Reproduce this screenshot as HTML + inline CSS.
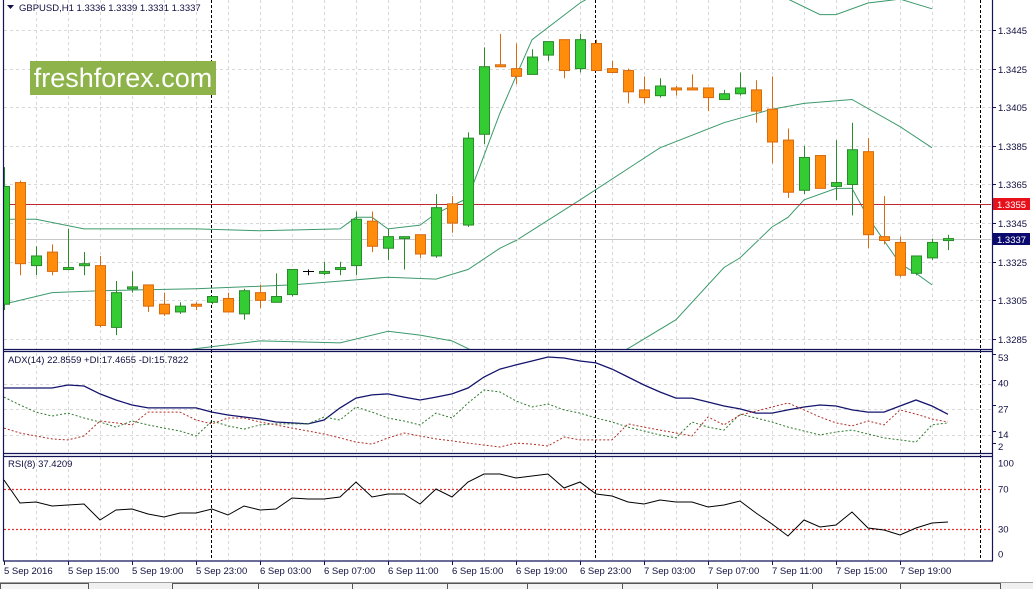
<!DOCTYPE html>
<html><head><meta charset="utf-8"><title>GBPUSD H1</title>
<style>
html,body{margin:0;padding:0;background:#fff;}
svg{display:block;font-family:"Liberation Sans",Tahoma,sans-serif;}
</style></head>
<body>
<svg id="chart" width="1033" height="589" viewBox="0 0 1033 589" xmlns="http://www.w3.org/2000/svg">
<defs>
<clipPath id="cMain"><rect x="4" y="0" width="988" height="349"/></clipPath>
<clipPath id="cAdx"><rect x="4" y="352" width="988" height="100"/></clipPath>
<clipPath id="cRsi"><rect x="4" y="457" width="988" height="103"/></clipPath>
</defs>
<rect x="0" y="0" width="1033" height="589" fill="#ffffff"/>
<g id="grid"></g>
<g id="main" clip-path="url(#cMain)"></g>
<g id="adx" clip-path="url(#cAdx)"></g>
<g id="rsi" clip-path="url(#cRsi)"></g>
<g id="frame"></g>
<g id="axes"></g>
<rect x="30" y="61" width="186" height="34" fill="#8db34a"/>
<text x="123" y="87" text-anchor="middle" font-size="27" fill="#ffffff">freshforex.com</text>
<path d="M7 5 L14 5 L10.5 9 Z" fill="#101050"/>
<text x="19" y="11" font-size="9.5" fill="#101040">GBPUSD,H1  1.3336 1.3339 1.3331 1.3337</text>
<text x="8" y="363" font-size="9.5" fill="#101040">ADX(14) 22.8559 +DI:17.4655 -DI:15.7822</text>
<text x="8" y="467" font-size="9.5" fill="#101040">RSI(8) 37.4209</text>
</svg>
<script>
const openP=[1.3303,1.3366,1.3323,1.3330,1.3321,1.3323,1.3323,1.3291,1.3311,1.3313,1.3303,1.3299,1.3303,1.3304,1.3306,1.3298,1.3309,1.3304,1.3308,1.3320,1.3319,1.3321,1.3323,1.3346,1.3332,1.3337,1.3339,1.3328,1.3355,1.3344,1.3391,1.3427,1.3425,1.3422,1.3432,1.3440,1.3425,1.3438,1.3425,1.3424,1.3414,1.3411,1.3415,1.3415,1.3415,1.3409,1.3412,1.3414,1.3404,1.3388,1.3362,1.3380,1.3364,1.3365,1.3382,1.3338,1.3335,1.3319,1.3327,1.3336];
const highP=[1.3374,1.3367,1.3333,1.3334,1.3342,1.3330,1.3328,1.3315,1.3320,1.3313,1.3309,1.3304,1.3304,1.3307,1.3309,1.3311,1.3313,1.3319,1.3321,1.3321,1.3325,1.3325,1.3351,1.3351,1.3342,1.3338,1.3339,1.3360,1.3359,1.3392,1.3436,1.3443,1.3438,1.3435,1.3439,1.3440,1.3443,1.3440,1.3429,1.3425,1.3421,1.3420,1.3416,1.3422,1.3415,1.3414,1.3423,1.3419,1.3421,1.3394,1.3385,1.3380,1.3388,1.3397,1.3389,1.3359,1.3338,1.3328,1.3337,1.3339];
const lowP=[1.3300,1.3318,1.3318,1.3318,1.3321,1.3318,1.3291,1.3287,1.3309,1.3299,1.3297,1.3298,1.3300,1.3303,1.3299,1.3295,1.3301,1.3304,1.3307,1.3318,1.3318,1.3318,1.3318,1.3330,1.3326,1.3321,1.3327,1.3327,1.3340,1.3343,1.3386,1.3426,1.3417,1.3422,1.3429,1.3420,1.3423,1.3424,1.3423,1.3407,1.3407,1.3410,1.3411,1.3414,1.3403,1.3409,1.3411,1.3397,1.3376,1.3358,1.3360,1.3363,1.3357,1.3349,1.3332,1.3334,1.3317,1.3318,1.3326,1.3331];
const closeP=[1.3364,1.3324,1.3328,1.3320,1.3322,1.3324,1.3292,1.3309,1.3312,1.3302,1.3298,1.3302,1.3302,1.3307,1.3299,1.3310,1.3305,1.3307,1.3321,1.3320,1.3320,1.3322,1.3347,1.3333,1.3338,1.3338,1.3329,1.3353,1.3345,1.3389,1.3426,1.3426,1.3421,1.3431,1.3439,1.3424,1.3440,1.3424,1.3423,1.3413,1.3410,1.3416,1.3414,1.3414,1.3410,1.3412,1.3415,1.3403,1.3387,1.3361,1.3379,1.3363,1.3366,1.3383,1.3339,1.3336,1.3318,1.3328,1.3335,1.3337];
const upperIdx=[0,2,5,12,16,21,22,23,24,26,27,29,31,33,36,40,44,49,51,52,54,56,58];
const upperBand=[1.3347,1.3347,1.3342,1.3342,1.3341,1.3342,1.3348,1.3348,1.3342,1.3344,1.3350,1.3358,1.3402,1.3440,1.3459,1.3478,1.3475,1.3461,1.3453,1.3453,1.3459,1.3461,1.3456];
const midIdx=[0,3,6,12,18,21,24,27,29,31,32,36,41,45,48,50,53,56,58];
const midBand=[1.3303,1.3309,1.3310,1.3311,1.3313,1.3315,1.3317,1.3316,1.3321,1.3332,1.3336,1.3357,1.3384,1.3397,1.3404,1.3407,1.3409,1.3395,1.3384];
const lowIdx=[0,6,12,16,21,24,26,28,29,34,39,42,45,46,48,49,50,52,53,54,56,57,58];
const lowBand=[1.3268,1.3272,1.3280,1.3284,1.3283,1.3289,1.3287,1.3284,1.3280,1.3262,1.3280,1.3295,1.3322,1.3327,1.3343,1.3348,1.3357,1.3363,1.3363,1.3348,1.3324,1.3319,1.3313];
const adxVals=[37.8,37.8,37.8,37.8,39.3,38.8,34.8,31.7,29.2,27.7,27.7,27.7,27.7,25.6,24.1,23.1,22.1,20.6,20.1,19.6,21.6,27.7,32.7,34.3,34.8,33.2,31.7,33.2,34.8,37.8,43.4,47.4,49.5,51.5,53.5,53.0,51.5,50.5,47.4,43.4,39.3,35.8,32.7,32.7,30.7,28.7,27.2,25.1,25.1,26.7,28.2,29.2,28.7,26.7,25.6,25.6,28.7,31.7,28.7,24.5];
const plusDI=[33.2,29.2,25.6,23.6,25.1,22.6,20.6,18.0,21.1,19.1,17.5,16.0,13.5,21.1,18.6,17.0,19.1,19.6,19.6,19.6,23.1,21.6,28.2,25.6,22.6,21.1,19.1,25.1,22.6,30.2,36.8,35.8,31.2,28.2,29.7,26.7,25.1,22.6,20.6,18.0,16.0,14.0,12.5,20.6,18.0,16.5,24.6,22.6,20.6,18.0,16.0,14.0,15.5,16.5,14.5,12.5,11.5,10.4,19.1,20.1];
const minusDI=[17.5,15.0,13.5,12.0,11.5,13.5,21.1,20.1,19.1,25.6,25.6,25.6,21.6,19.6,22.6,22.6,20.6,19.1,17.5,16.0,14.5,12.5,10.4,9.4,12.5,15.0,13.5,12.0,11.0,9.9,8.9,7.9,9.9,9.4,8.4,13.0,11.5,11.5,11.5,19.6,18.0,16.5,15.0,13.5,23.1,19.1,24.1,26.1,28.2,30.2,26.7,23.1,20.1,18.6,21.1,19.1,26.7,24.6,22.1,20.6];
const rsiVals=[79,56,57,53,54,55,39,49,50,45,42,46,46,50,44,53,49,50,61,60,60,62,77,62,65,65,55,70,62,77,85,85,81,83,85,71,77,65,63,57,55,59,57,57,52,54,58,46,35,23,39,32,34,47,31,29,24,31,36,37];
const priceTicks=[1.3445,1.3425,1.3405,1.3385,1.3365,1.3345,1.3325,1.3305,1.3285];
const adxTicks=[53,40,27,14,2];
const rsiTicks=[100,70,30,0];
const timeLabels=["5 Sep 2016","5 Sep 15:00","5 Sep 19:00","5 Sep 23:00","6 Sep 03:00","6 Sep 07:00","6 Sep 11:00","6 Sep 15:00","6 Sep 19:00","6 Sep 23:00","7 Sep 03:00","7 Sep 07:00","7 Sep 11:00","7 Sep 15:00","7 Sep 19:00"];
const timeLabelBars=[0,4,8,12,16,20,24,28,32,36,40,44,48,52,56];
const alertPrice=1.3355;
const bidPrice=1.3337;
const sepBars=[13,37];

const NS="http://www.w3.org/2000/svg";
const xOf=i=>4+16*i;
const yP=p=>30+(1.3445-p)*19312;
const yA=v=>358+(53-v)*1.974;
const yR=v=>559-v;
function mk(tag,attrs,parent){const e=document.createElementNS(NS,tag);for(const k in attrs)e.setAttribute(k,attrs[k]);parent.appendChild(e);return e;}
const G=document.getElementById('grid'),M=document.getElementById('main'),A=document.getElementById('adx'),R=document.getElementById('rsi'),F=document.getElementById('frame'),X=document.getElementById('axes');

for(let x=36;x<990;x+=32){
  for(const [t,b] of [[0,349],[353,452],[457,560]]){
    const l=mk('line',{x1:x+0.5,y1:t,x2:x+0.5,y2:b,stroke:'#d8d8d8','stroke-dasharray':'3,3','stroke-width':1},G);
    
    
  }
}
priceTicks.concat([1.3465]).forEach(p=>{
  const y=Math.round(yP(p))+0.5;
  const l=mk('line',{x1:4,y1:y,x2:991,y2:y,stroke:'#d8d8d8','stroke-dasharray':'3,3'},G);
  
  
});
[40,27,14].forEach(v=>{
  const y=Math.round(yA(v))+0.5;
  const l=mk('line',{x1:4,y1:y,x2:991,y2:y,stroke:'#d8d8d8','stroke-dasharray':'3,3'},G);
  
  
});
sepBars.forEach(i=>{
  const x=xOf(i)-0.5;
  const l=mk('line',{x1:x,y1:0,x2:x,y2:560,stroke:'#000','stroke-dasharray':'3,2'},G);
  
  
});
const sh=mk('line',{x1:980.5,y1:0,x2:980.5,y2:560,stroke:'#000','stroke-dasharray':'3,2'},G);



function poly(idx,vals,fy,parent,attrs,name){
  const pts=idx.map((b,k)=>xOf(b)+','+fy(vals[k]).toFixed(1)).join(' ');
  const e=mk('polyline',Object.assign({points:pts,fill:'none'},attrs),parent);
  
  
  return e;
}
poly(upperIdx,upperBand,yP,M,{stroke:'#3c9a6c','stroke-width':1},'bollinger-upper');
poly(midIdx,midBand,yP,M,{stroke:'#3c9a6c','stroke-width':1},'bollinger-middle');
poly(lowIdx,lowBand,yP,M,{stroke:'#3c9a6c','stroke-width':1},'bollinger-lower');

const al=mk('line',{x1:4,y1:Math.round(yP(alertPrice))+0.5,x2:991,y2:Math.round(yP(alertPrice))+0.5,stroke:'#c0282d','stroke-width':1},M);


const bl=mk('line',{x1:4,y1:Math.round(yP(bidPrice))+0.5,x2:991,y2:Math.round(yP(bidPrice))+0.5,stroke:'#c8c8c8','stroke-width':1},M);



openP.forEach((o,i)=>{
  const c=closeP[i],h=highP[i],l=lowP[i],x=xOf(i);
  const up=c>o, doji=c===o;
  const body=up?'#33cc33':'#ff8c0a', edge=up?'#2b8a2b':'#d86a10';
  const g=mk('g',{},M);
  
  
  if(doji){
    mk('line',{x1:x+0.5,y1:yP(h),x2:x+0.5,y2:yP(l),stroke:'#000'},g);
    mk('line',{x1:x-5,y1:Math.round(yP(o))+0.5,x2:x+6,y2:Math.round(yP(o))+0.5,stroke:'#000'},g);
    return;
  }
  mk('line',{x1:x+0.5,y1:yP(h),x2:x+0.5,y2:yP(l),stroke:edge},g);
  const top=yP(Math.max(o,c)),bot=yP(Math.min(o,c));
  mk('rect',{x:x-4.5,y:top,width:10,height:Math.max(bot-top,2),fill:body,stroke:edge,'stroke-width':1},g);
});

const barIdx=adxVals.map((v,i)=>i);
poly(barIdx,adxVals,yA,A,{stroke:'#14146e','stroke-width':1.3},'adx-line');
poly(barIdx,plusDI,yA,A,{stroke:'#2d7a2d','stroke-width':1,'stroke-dasharray':'2,2'},'plus-di-line');
poly(barIdx,minusDI,yA,A,{stroke:'#b03028','stroke-width':1,'stroke-dasharray':'2,2'},'minus-di-line');

[70,30].forEach(v=>{
  const l=mk('line',{x1:4,y1:yR(v)+0.5,x2:991,y2:yR(v)+0.5,stroke:'#e03030','stroke-dasharray':'2,2','stroke-width':1.2},R);
  
  
});
poly(barIdx,rsiVals,yR,R,{stroke:'#000','stroke-width':1},'rsi-line');

[[3.5,0,3.5,561],[992.5,0,992.5,561],[3,349.5,993,349.5],[3,351.5,993,351.5],[3,453.5,993,453.5],[3,456.5,993,456.5],[3,561,993,561]].forEach(a=>{
  const l=mk('line',{x1:a[0],y1:a[1],x2:a[2],y2:a[3],stroke:'#14145a','stroke-width':1.2},F);
  
  
});

priceTicks.forEach(p=>{
  const y=Math.round(yP(p));
  mk('line',{x1:992,y1:y+0.5,x2:996,y2:y+0.5,stroke:'#14145a'},X);
  const t=mk('text',{x:998,y:y+4,'font-size':9.5,fill:'#101040'},X);
  
  
  t.textContent=p.toFixed(4);
});
function tag(price,bg,name){
  const y=Math.round(yP(price));
  const r=mk('rect',{x:993,y:y-6,width:37,height:12,fill:bg},X);
  
  
  const t=mk('text',{x:997,y:y+4,'font-size':9.5,fill:'#fff'},X);
  
  
  t.textContent=price.toFixed(4);
}
tag(alertPrice,'#e8111b','alert-price');
tag(bidPrice,'#0a0a6e','bid-price');
adxTicks.forEach(v=>{
  const y=Math.min(Math.max(yA(v),357),447);
  mk('line',{x1:992,y1:Math.round(y)-3.5,x2:996,y2:Math.round(y)-3.5,stroke:'#14145a'},X);
  const t=mk('text',{x:998,y:y+3,'font-size':9.5,fill:'#101040'},X);
  
  
  t.textContent=v;
});
rsiTicks.forEach(v=>{
  const y=Math.min(Math.max(yR(v),463),554);
  const t=mk('text',{x:998,y:y+3.5,'font-size':9.5,fill:'#101040'},X);
  
  
  t.textContent=v;
});
timeLabels.forEach((s,k)=>{
  const x=xOf(timeLabelBars[k]);
  mk('line',{x1:x+0.5,y1:561,x2:x+0.5,y2:565,stroke:'#14145a'},X);
  const t=mk('text',{x:x,y:574,'font-size':9.5,fill:'#101040'},X);
  
  
  t.textContent=s;
});
const bar=mk('rect',{x:0,y:582,width:1033,height:7,fill:'#f0f0f0'},X);


mk('line',{x1:0,y1:582.5,x2:1033,y2:582.5,stroke:'#a0a0a0'},X);
[[0,88],[172,258],[258,352],[352,447],[447,527],[527,622],[622,717],[717,812],[812,900],[900,1000]].forEach(a=>{
  const r=mk('rect',{x:a[0]+0.5,y:583.5,width:a[1]-a[0],height:8,fill:'#f4f4f4',stroke:'#555'},X);
  
  
});
</script>
</body></html>
